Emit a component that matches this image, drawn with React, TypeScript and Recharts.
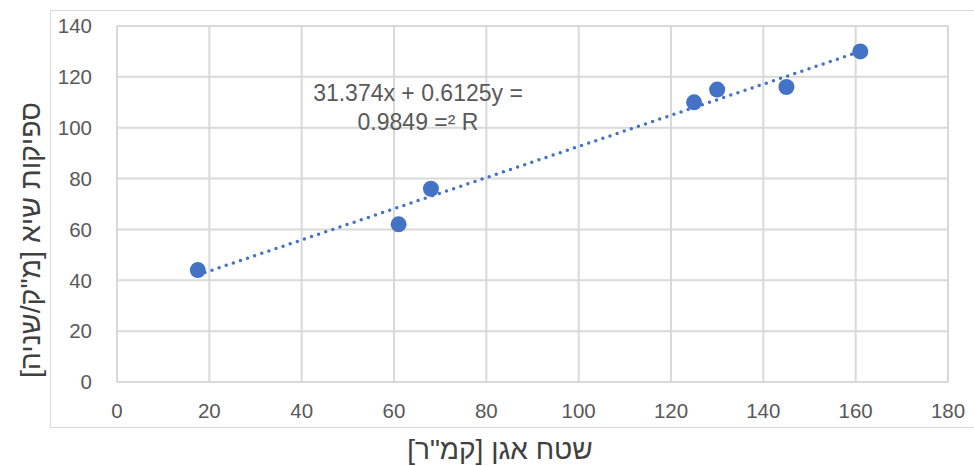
import React from 'react';
import { ScatterChart, Scatter, XAxis, YAxis, CartesianGrid } from 'recharts';

const basinArea = [17.5, 61, 68, 125, 130, 145, 161];
const peakFlow = [44, 62, 76, 110, 115, 116, 130];
const trendX = [17.5, 161];
const trendY = [42.1, 130];
const xTicks = [0, 20, 40, 60, 80, 100, 120, 140, 160, 180];
const yTicks = [0, 20, 40, 60, 80, 100, 120, 140];

const points = basinArea.map((x, i) => ({ x, y: peakFlow[i] }));
const trend = trendX.map((x, i) => ({ x, y: trendY[i] }));

const font = 'Liberation Sans, Arial, sans-serif';
const tickStyle = { fill: '#595959', fontSize: 20.5, fontFamily: font };

const App: React.FC = () => {
  return (
    <div style={{ position: 'absolute', left: 0, top: 0, width: 974, height: 466, background: '#fff' }}>
      <div
        style={{
          position: 'absolute',
          left: 50,
          top: 10,
          width: 930,
          height: 418,
          border: '1px solid #d9d9d9',
          boxSizing: 'border-box'
        }}
      />
      <ScatterChart
        width={974}
        height={466}
        margin={{ top: 26, right: 26, bottom: 54, left: 57 }}
        style={{ position: 'absolute', left: 0, top: 0 }}
      >
        <CartesianGrid stroke="#d9d9d9" strokeWidth={2} />
        <XAxis
          type="number"
          dataKey="x"
          domain={[0, 180]}
          ticks={xTicks}
          axisLine={false}
          tickLine={false}
          tick={tickStyle}
          tickMargin={15}
          height={30}
        />
        <YAxis
          type="number"
          dataKey="y"
          domain={[0, 140]}
          ticks={yTicks}
          axisLine={false}
          tickLine={false}
          tick={tickStyle}
          tickMargin={19}
          width={60}
        />
        <Scatter
          data={trend}
          line={{ stroke: '#4472C4', strokeWidth: 3.5, strokeDasharray: '0 7.5', strokeLinecap: 'round' }}
          shape={() => <g />}
          isAnimationActive={false}
        />
        <Scatter
          data={points}
          fill="#4472C4"
          shape={(p: any) => <circle cx={p.cx} cy={p.cy} r={8} fill="#4472C4" />}
          isAnimationActive={false}
        />
      </ScatterChart>
      <div
        style={{
          position: 'absolute',
          left: 298,
          top: 79,
          width: 240,
          textAlign: 'center',
          color: '#595959',
          fontSize: 23,
          lineHeight: '29px',
          fontFamily: font,
          whiteSpace: 'nowrap'
        }}
      >
        <div>31.374x + 0.6125y =</div>
        <div>0.9849 =² R</div>
      </div>
      <div
        dir="rtl"
        style={{
          position: 'absolute',
          left: 300,
          top: 434,
          width: 400,
          textAlign: 'center',
          color: '#404040',
          fontSize: 28,
          fontFamily: font,
          whiteSpace: 'nowrap'
        }}
      >
        שטח אגן [קמ"ר]
      </div>
      <div
        dir="rtl"
        style={{
          position: 'absolute',
          left: 30 - 200,
          top: 240 - 16,
          width: 400,
          height: 32,
          lineHeight: '32px',
          textAlign: 'center',
          color: '#404040',
          fontSize: 28.5,
          fontFamily: font,
          whiteSpace: 'nowrap',
          transform: 'rotate(-90deg)'
        }}
      >
        ספיקות שיא [מ"ק/שניה]
      </div>
    </div>
  );
};

export default App;
